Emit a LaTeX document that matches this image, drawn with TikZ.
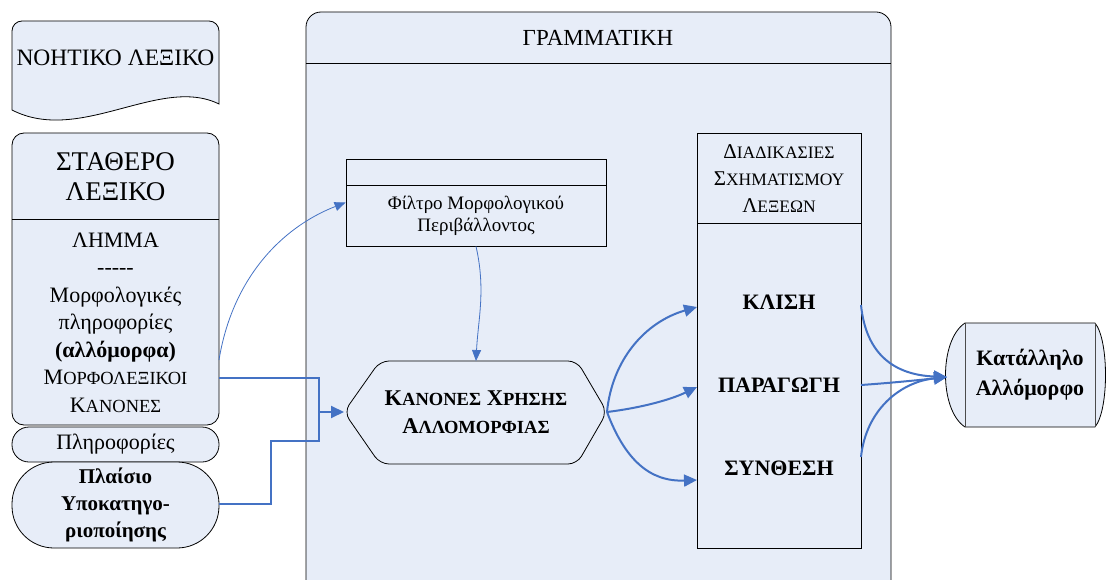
\documentclass[tikz,border=0pt]{standalone}
\usepackage{fontspec}
\setmainfont{Liberation Serif}
\usetikzlibrary{arrows.meta,calc}
\definecolor{panel}{RGB}{231,237,248}
\definecolor{flow}{RGB}{68,114,196}
% smaller capitals for the small-caps look
\newcommand\lowcap[2]{{\fontsize{#1}{#1}\selectfont #2}}
\tikzset{
  box/.style={draw=black, fill=panel, line width=0.8pt},
  plain/.style={inner sep=0pt, align=center},
  flowline/.style={draw=flow, line width=2pt},
  flowarrow/.style={draw=flow, line width=2pt, -{Triangle[length=13pt,width=12pt]}},
  thinarrow/.style={draw=flow, line width=0.8pt, -{Triangle[length=11pt,width=9pt]}},
}
\begin{document}
\begin{tikzpicture}[x=1pt,y=-1pt]
\useasboundingbox (0,0) rectangle (1108,580);

% ---- grammar panel ----
\draw[box, rounded corners=15] (306,584) -- (306,12) -- (891,12) -- (891,584);
\draw[line width=0.8pt] (306,63) -- (891,63);
\node[plain, font={\fontsize{23}{26}\selectfont}] (gram) at (598,38) {ΓΡΑΜΜΑΤΙΚΗ};

% ---- mental lexicon (document shape) ----
\draw[box] (219,104) .. controls (160,75) and (80,145) .. (12,110)
  [rounded corners=10] -- (12,21) -- (219,21) [sharp corners] -- cycle;
\node[plain, font={\fontsize{23.5}{26}\selectfont}] (noet) at (115.5,58) {ΝΟΗΤΙΚΟ ΛΕΞΙΚΟ};

% ---- fixed lexicon ----
\node[box, rounded corners=12, minimum width=207pt, minimum height=292pt, inner sep=0pt] (stat) at (115.5,279) {};
\draw[line width=0.8pt] (12,219) -- (219,219);
\node[plain, font={\fontsize{27}{30}\selectfont}] (statT) at (115.5,177) {ΣΤΑΘΕΡΟ\\ΛΕΞΙΚΟ};
\node[plain, font={\fontsize{22}{27.5}\selectfont}] (statB) at (115.5,322.5)
  {ΛΗΜΜΑ\\-{}-{}-{}-{}-\\Μορφολογικές\\πληροφορίες\\\textbf{(αλλόμορφα)}\\Μ\lowcap{18.5}{ΟΡΦΟΛΕΞΙΚΟΙ}\\Κ\lowcap{18.5}{ΑΝΟΝΕΣ}};

\node[box, rounded corners=17, minimum width=207pt, minimum height=35pt, inner sep=0pt,
      font={\fontsize{22}{25}\selectfont}] (plir) at (115.5,444.5) {Πληροφορίες};
\node[box, rounded corners=42, minimum width=207pt, minimum height=86pt, inner sep=0pt] (plais) at (115.5,505) {};
\node[plain, font={\bfseries\fontsize{21}{27}\selectfont}] (plaisT) at (115.5,505) {Πλαίσιο\\Υποκατηγο-\\ριοποίησης};

% ---- morphological filter ----
\node[box, minimum width=260pt, minimum height=87pt, inner sep=0pt] (filt) at (476,202.5) {};
\draw[line width=0.8pt] (346,185) -- (606,185);
\node[plain, font={\fontsize{19}{22}\selectfont}] (filtT) at (476,216) {Φίλτρο Μορφολογικού\\Περιβάλλοντος};

% ---- allomorphy rules (hexagon) ----
\coordinate (hexL) at (344,412);
\coordinate (hexR) at (607,412);
\coordinate (hexT) at (476,361);
\draw[box, rounded corners=9] (hexL) -- (380,361) -- (577,361) -- (hexR) -- (577,464) -- (380,464) -- cycle;
\node[plain, font={\bfseries\fontsize{22.5}{28}\selectfont}] (hex) at (476,412)
  {Κ\lowcap{18.5}{ΑΝΟΝΕΣ} Χ\lowcap{18.5}{ΡΗΣΗΣ}\\Α\lowcap{18.5}{ΛΛΟΜΟΡΦΙΑΣ}};

% ---- word formation processes ----
\node[box, minimum width=164pt, minimum height=415pt, inner sep=0pt] (proc) at (779,340.5) {};
\draw[line width=0.8pt] (697,223) -- (861,223);
\node[plain, font={\fontsize{21}{27}\selectfont}] (procT) at (779,179)
  {Δ\lowcap{17.5}{ΙΑΔΙΚΑΣΙΕΣ}\\Σ\lowcap{17.5}{ΧΗΜΑΤΙΣΜΟΥ}\\Λ\lowcap{17.5}{ΕΞΕΩΝ}};
\node[plain, font={\bfseries\fontsize{22}{26}\selectfont}] (klisi) at (779,302) {ΚΛΙΣΗ};
\node[plain, font={\bfseries\fontsize{22}{26}\selectfont}] (parag) at (779,385) {ΠΑΡΑΓΩΓΗ};
\node[plain, font={\bfseries\fontsize{22}{26}\selectfont}] (synth) at (779,468) {ΣΥΝΘΕΣΗ};

% ---- appropriate allomorph (storage shape) ----
\draw[box] (965,323) -- (1095,323) .. controls (1109,340) and (1109,410) .. (1095,427)
  -- (965,427) .. controls (939,410) and (939,340) .. cycle;
\draw[line width=0.8pt, draw=black!70] (965,323) -- (965,427);
\draw[line width=0.8pt, draw=black!70] (1095,323) -- (1095,427);
\node[plain, font={\bfseries\fontsize{22}{30}\selectfont}] (out) at (1030,375) {Κατάλληλο\\Αλλόμορφο};
\coordinate (outL) at (947,377);

% ---- connector ports ----
\coordinate (statA) at (219,360);
\coordinate (statC) at (219,378);
\coordinate (plaisE) at (219,504);
\coordinate (junc) at (319,412);
\coordinate (procA) at (861,305);
\coordinate (procB) at (861,385);
\coordinate (procC) at (861,457);

% ---- connectors ----
\draw[thinarrow] (statA) .. controls (232,280) and (280,228) .. (filt.west);
\draw[thinarrow] (filt.south) .. controls (486,290) and (478,320) .. (hexT);

\draw[flowline] (statC) -- (319,378) -- (319,441) -- (271,441) -- (271,504) -- (plaisE);
\draw[flowarrow] (junc) -- (hexL);

\draw[flowarrow] (hexR) .. controls (612,360) and (645,322) .. (697,307);
\draw[flowarrow] (hexR) .. controls (640,408) and (670,400) .. (697,387);
\draw[flowarrow] (hexR) .. controls (625,460) and (650,482) .. (697,480);

\draw[flowarrow] (procA) .. controls (866,355) and (895,375) .. (outL);
\draw[flowarrow] (procB) .. controls (890,383) and (920,380) .. (outL);
\draw[flowarrow] (procC) .. controls (866,410) and (900,382) .. (outL);
\end{tikzpicture}
\end{document}
